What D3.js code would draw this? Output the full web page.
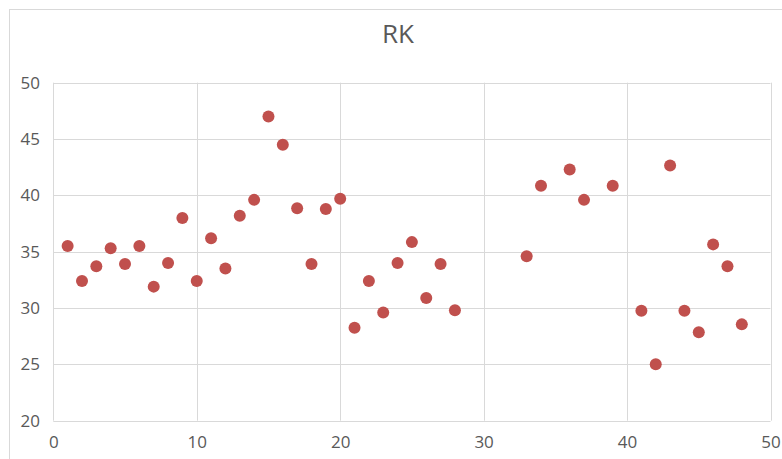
<!DOCTYPE html>
<html>
<head>
<meta charset="utf-8">
<script src="https://cdn.jsdelivr.net/npm/d3@7"></script>
<style>
  html, body { margin: 0; padding: 0; background: #fff; }
  svg { display: block; }
</style>
</head>
<body>
<svg id="chart" width="782" height="459"></svg>
<script>
const chartTitle = "RK";
const xValues = [1,2,3,4,5,6,7,8,9,10,11,12,13,14,15,16,17,18,19,20,21,22,23,24,25,26,27,28,33,34,36,37,39,41,42,43,44,45,46,47,48];
const yValues = [35.5,32.4,33.7,35.3,33.9,35.5,31.9,34.0,38.0,32.4,36.2,33.5,38.2,39.6,47.0,44.5,38.85,33.9,38.8,39.7,28.25,32.4,29.6,34.0,35.85,30.9,33.9,29.8,34.6,40.85,42.3,39.6,40.85,29.75,25.0,42.65,29.75,27.85,35.65,33.7,28.55];
const xTicks = [0,10,20,30,40,50];
const yTicks = [20,25,30,35,40,45,50];

const svg = d3.select("#chart");
const W = 782, H = 459;
const plot = { left: 53.3, right: 770.5, top: 82.7, bottom: 420.7 };

// outer chart border (extends past the view on right and bottom)
svg.append("rect")
  .attr("x", 9.5).attr("y", 9.5)
  .attr("width", W).attr("height", H)
  .attr("fill", "#fff").attr("stroke", "#d9d9d9").attr("stroke-width", 1);

const x = d3.scaleLinear().domain([0, 50]).range([plot.left, plot.right]);
const y = d3.scaleLinear().domain([20, 50]).range([plot.bottom, plot.top]);

// gridlines
const grid = svg.append("g");
grid.selectAll("line.v").data(xTicks).join("line")
  .attr("x1", d => Math.round(x(d)) + 0.5).attr("x2", d => Math.round(x(d)) + 0.5)
  .attr("y1", plot.top).attr("y2", plot.bottom)
  .attr("stroke", "#d9d9d9").attr("stroke-width", 1);
grid.selectAll("line.h").data(yTicks).join("line")
  .attr("y1", d => Math.round(y(d)) + 0.5).attr("y2", d => Math.round(y(d)) + 0.5)
  .attr("x1", plot.left).attr("x2", plot.right)
  .attr("stroke", "#d9d9d9").attr("stroke-width", 1);

// axes via d3
const yAxis = d3.axisLeft(y).tickValues(yTicks).tickSize(0).tickPadding(0).tickFormat(d3.format("d"));
const gy = svg.append("g").attr("transform", `translate(40,0)`).call(yAxis);
gy.select(".domain").remove();
gy.selectAll("text").attr("fill", "#595959")
  .style("font-family", "'Open Sans', sans-serif").style("font-size", "17px");

const xAxis = d3.axisBottom(x).tickValues(xTicks).tickSize(0).tickPadding(0).tickFormat(d3.format("d"));
const gx = svg.append("g").attr("transform", `translate(0,436)`).call(xAxis);
gx.select(".domain").remove();
gx.selectAll("text").attr("fill", "#595959")
  .style("font-family", "'Open Sans', sans-serif").style("font-size", "17px");

// points
const data = xValues.map((v, i) => ({ x: v, y: yValues[i] }));
svg.append("g").selectAll("circle").data(data).join("circle")
  .attr("cx", d => x(d.x)).attr("cy", d => y(d.y)).attr("r", 6)
  .attr("fill", "#c0504d");

// title
svg.append("text")
  .attr("x", 398).attr("y", 43)
  .attr("text-anchor", "middle")
  .attr("fill", "#595959")
  .style("font-family", "'Open Sans', sans-serif").style("font-size", "26px")
  .text(chartTitle);
</script>
</body>
</html>
